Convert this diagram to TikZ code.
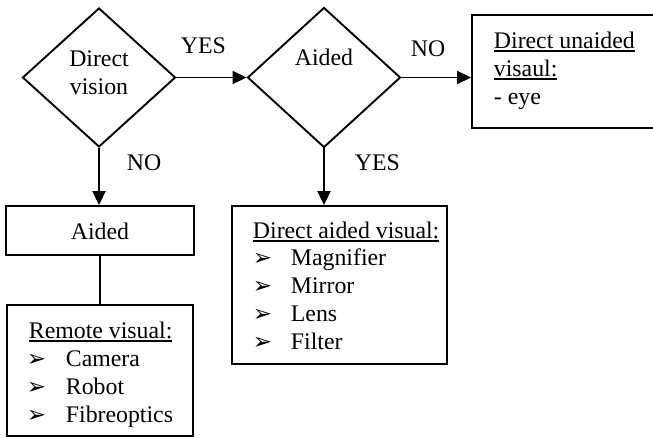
\documentclass[tikz,border=0pt]{standalone}
\usepackage{fontspec}
\setmainfont{Liberation Serif}
\newfontfamily\dejavu{DejaVu Sans}
\usetikzlibrary{shapes.geometric,arrows.meta}
\newcommand\myul[1]{\vtop{\hbox{#1}\kern2pt\hrule height 1.5pt}}
\newcommand\blt{{\dejavu\fontsize{23}{23}\selectfont ➢}}
\begin{document}
\begin{tikzpicture}[x=1pt,y=-1pt, font=\fontsize{23.8}{28}\selectfont, line width=1.9pt,
 dia/.style={draw, diamond, minimum width=153pt, minimum height=139pt, inner sep=0pt},
 box/.style={draw, rectangle, inner sep=0pt},
 txt/.style={inner sep=0pt, anchor=base west},
 ctxt/.style={inner sep=0pt, anchor=base},
 arr/.style={-{Triangle[length=14pt,width=13pt]}}]
\useasboundingbox (0,0) rectangle (653,437);
\clip (0,0) rectangle (653,437);
% shapes
\node[dia] (d1) at (99,77.5) {};
\node[dia, minimum height=140pt] (d2) at (324,77.5) {};
\node[box, minimum width=188pt, minimum height=49pt] (aided) at (100,230.5) {};
\node[box, minimum width=186pt, minimum height=131pt] (remote) at (100,370.5) {};
\node[box, minimum width=215pt, minimum height=158pt] (daided) at (339.5,285) {};
\node[box, minimum width=218pt, minimum height=113pt] (unaided) at (581,71.5) {};
% connectors
\draw[arr] (d1.east) -- (d2.west);
\draw[arr] (d1.south) -- (d1.south |- aided.north);
\draw[arr] (d2.east) -- (d2.east -| unaided.west);
\draw[arr] (d2.south) -- (d2.south |- daided.north);
\draw (aided.south) -- (remote.north);
% labels
\node[ctxt] (t1a) at (99,66) {Direct};
\node[ctxt] (t1b) at (99,94) {vision};
\node[ctxt] (t2) at (324,65) {Aided};
\node[txt] (yes1) at (180,53) {YES};
\node[txt] (no1) at (126,170) {NO};
\node[txt] (no2) at (410,56) {NO};
\node[txt] (yes2) at (354,170) {YES};
\node[ctxt] (t3) at (100,239) {Aided};
% unaided
\node[txt] (u1) at (493,48) {\myul{Direct unaided}};
\node[txt] (u2) at (493,76) {\myul{visaul:}};
\node[txt] (u3) at (493,104) {- eye};
% remote
\node[txt] (r0) at (28,338) {\myul{Remote visual:}};
\node[txt] (rb1) at (26,366) {\blt};
\node[txt] (rb2) at (26,394) {\blt};
\node[txt] (rb3) at (26,422) {\blt};
\node[txt] (r1) at (65,366) {Camera};
\node[txt] (r2) at (65,394) {Robot};
\node[txt] (r3) at (65,422) {Fibreoptics};
% direct aided
\node[txt] (a0) at (252,238) {\myul{Direct aided visual:}};
\node[txt] (ab1) at (252,265) {\blt};
\node[txt] (ab2) at (252,293) {\blt};
\node[txt] (ab3) at (252,321) {\blt};
\node[txt] (ab4) at (252,349) {\blt};
\node[txt] (a1) at (290,265) {Magnifier};
\node[txt] (a2) at (290,293) {Mirror};
\node[txt] (a3) at (290,321) {Lens};
\node[txt] (a4) at (290,349) {Filter};
\end{tikzpicture}
\end{document}
